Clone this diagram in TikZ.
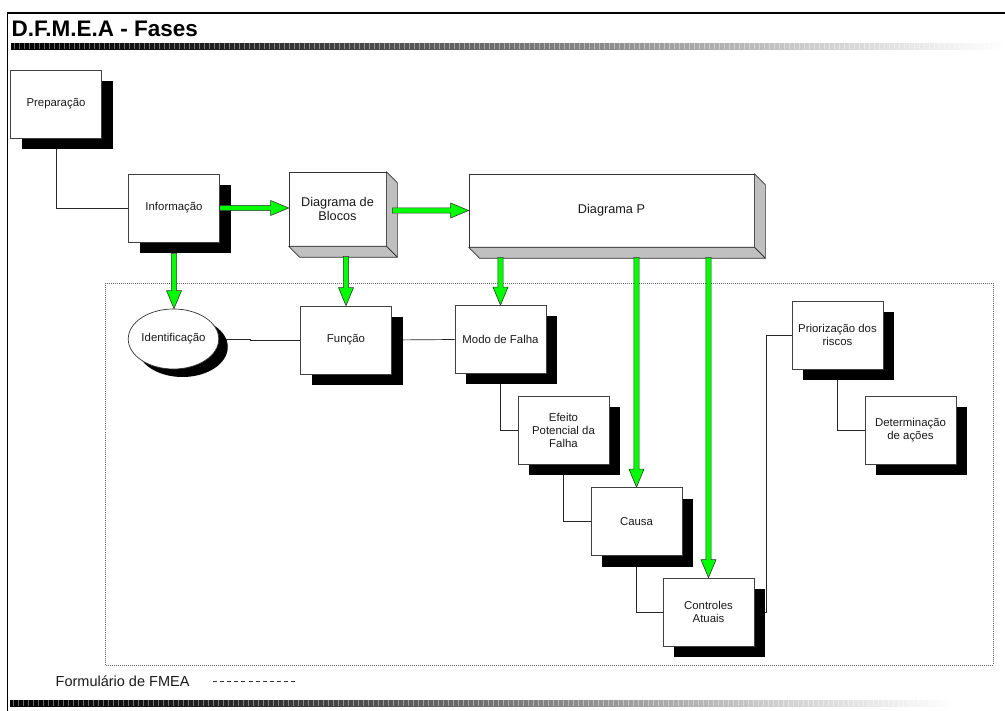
\documentclass[tikz,border=0pt]{standalone}
\usepackage{fontspec}
\setmainfont{Liberation Sans}
\usetikzlibrary{calc,shadows,shapes.geometric,backgrounds}

\definecolor{arrowgreen}{RGB}{0,255,0}
\definecolor{facegray}{RGB}{192,192,192}

% dark-to-light band used for the header and footer rules
% (TikZ maps the filled path onto the 25bp..75bp part of the shading)
\pgfdeclarehorizontalshading{barshade}{100bp}{color(0bp)=(black); color(25bp)=(black); color(35bp)=(black!88); color(55bp)=(black!45); color(65bp)=(black!20); color(75bp)=(white); color(100bp)=(white)}

% thick green block arrows (vertical: tip below start; horizontal: tip right of start)
\newcommand{\greenV}[2]{%
  \filldraw[garrow] ($(#1)+(-2.6,0)$) -- ($(#2)+(-2.6,-18)$) -- ($(#2)+(-7.5,-18)$) -- (#2)
    -- ($(#2)+(7.5,-18)$) -- ($(#2)+(2.6,-18)$) -- ($(#1)+(2.6,0)$) -- cycle;}
\newcommand{\greenH}[2]{%
  \filldraw[garrow] ($(#1)+(0,-2.6)$) -- ($(#2)+(-18,-2.6)$) -- ($(#2)+(-18,-7.5)$) -- (#2)
    -- ($(#2)+(-18,7.5)$) -- ($(#2)+(-18,2.6)$) -- ($(#1)+(0,2.6)$) -- cycle;}

\begin{document}
\begin{tikzpicture}[x=1pt,y=-1pt,
  box/.style={draw=black!75, line width=0.7pt, fill=white, minimum width=91pt,
    minimum height=68pt, inner sep=0pt, align=center, text=black!90,
    font=\fontsize{11.4}{13.3}\selectfont,
    drop shadow={shadow xshift=11pt, shadow yshift=-11pt, fill=black, opacity=1}},
  oval/.style={ellipse, draw=black!80, line width=0.7pt, fill=white, minimum width=87pt,
    minimum height=60pt, inner sep=0pt, text=black!90, font=\fontsize{11.4}{13.3}\selectfont,
    drop shadow={shadow xshift=9pt, shadow yshift=-8pt, fill=black, opacity=1}},
  block/.style={draw=black!80, line width=0.7pt, fill=white, inner sep=0pt, align=center,
    text=black!90, font=\fontsize{12.7}{14.7}\selectfont},
  face/.style={draw=black!80, line width=0.7pt, fill=facegray, line join=round},
  garrow/.style={fill=arrowgreen, draw=black!80, line width=0.6pt, line join=miter},
  link/.style={draw=black!85, line width=0.7pt},
  region/.style={draw=black!60, line width=0.8pt, dash pattern=on 1pt off 1pt}]

\useasboundingbox (0,0) rectangle (1005,711);

% page frame
\draw[line width=1.8pt] (7.5,711) -- (7.5,13) -- (1005,13);

% header
\node[anchor=base west, inner sep=0pt, font=\bfseries\fontsize{22.5}{27}\selectfont] (title) at (11.5,36.7) {D.F.M.E.A - Fases};
\shade[shading=barshade] (11,43.5) rectangle (1005,49.5);
\foreach \x in {14,19,...,1004} \draw[white, line width=0.35pt, opacity=0.4] (\x,43.5) -- (\x,49.5);

% footer
\shade[shading=barshade] (10,700) rectangle (955,706);
\foreach \x in {13,18,...,954} \draw[white, line width=0.35pt, opacity=0.4] (\x,700) -- (\x,706);
\node[anchor=base west, inner sep=0pt, font=\fontsize{14.5}{17}\selectfont, text=black!90] (legend) at (55.5,686) {Formulário de FMEA};
\draw[black!80, line width=0.8pt, dash pattern=on 4pt off 3.1pt] (213,681.7) -- (297,681.7);

% preparation and information
\node[box] (prep) at (56,104) {Preparação};
\node[box] (info) at (174,208) {Informação};

% extruded boxes
\node[block, minimum width=97pt, minimum height=74pt] (blocos) at (337.5,209) {Diagrama de\\Blocos};
\path[face] (blocos.north east) -- ++(11,11) -- ($(blocos.south east)+(11,11)$) -- (blocos.south east) -- cycle;
\path[face] (blocos.south west) -- (blocos.south east) -- ++(11,11) -- ($(blocos.south west)+(11,11)$) -- cycle;

\node[block, minimum width=285pt, minimum height=73pt] (pdiag) at (611.5,210.5) {Diagrama P};
\path[face] (pdiag.north east) -- ++(11,11) -- ($(pdiag.south east)+(11,11)$) -- (pdiag.south east) -- cycle;
\path[face] (pdiag.south west) -- (pdiag.south east) -- ++(11,11) -- ($(pdiag.south west)+(11,11)$) -- cycle;

% analysis steps
\node[oval] (ident) at (173.5,339) {Identificação};
\node[box] (func) at (346,340) {Função};
\node[box] (modo) at (500.5,339.5) {Modo de Falha};
\node[box] (efeito) at (563.5,430.5) {Efeito\\Potencial da\\Falha};
\node[box] (causa) at (636.5,521.5) {Causa};
\node[box] (ctrl) at (708.5,612) {Controles\\Atuais};
\node[box] (prio) at (837.5,335) {Priorização dos\\riscos};
\node[box] (det) at (910.5,430) {Determinação\\de ações};

% thin connectors and the form region, beneath boxes and shadows
\begin{scope}[on background layer]
  \draw[region] (105,283.5) rectangle (993,665);
  \draw[link] (prep.south) |- (info.west);
  \draw[link] (ident.east) -- ++(31,0) |- (func.west);
  \draw[link] (func.east) -- (modo.west);
  \draw[link] (modo.south) |- (efeito.west);
  \draw[link] (efeito.south) |- (causa.west);
  \draw[link] (causa.south) |- (ctrl.west);
  \draw[link] (ctrl.east) -- ++(11.5,0) |- (prio.west);
  \draw[link] (prio.south) |- (det.west);
\end{scope}

% green flow arrows
\coordinate (h1s) at (info.east);
\coordinate (h1t) at (blocos.west |- info.east);
\greenH{h1s}{h1t}
\coordinate (h2t) at (pdiag.west);
\coordinate (h2s) at ($(pdiag.west -| blocos.east)+(6,0)$);
\greenH{h2s}{h2t}

\coordinate (v1s) at ($(info.south)+(0,11)$);
\coordinate (v1t) at (info.south |- ident.north);
\greenV{v1s}{v1t}
\coordinate (v2s) at ($(func.north |- blocos.south)+(0,10)$);
\coordinate (v2t) at (func.north);
\greenV{v2s}{v2t}
\coordinate (v3s) at ($(modo.north |- pdiag.south)+(0,10)$);
\coordinate (v3t) at (modo.north);
\greenV{v3s}{v3t}
\coordinate (v4s) at ($(causa.north |- pdiag.south)+(0,10)$);
\coordinate (v4t) at (causa.north);
\greenV{v4s}{v4t}
\coordinate (v5s) at ($(ctrl.north |- pdiag.south)+(0,10)$);
\coordinate (v5t) at (ctrl.north);
\greenV{v5s}{v5t}

\end{tikzpicture}
\end{document}
